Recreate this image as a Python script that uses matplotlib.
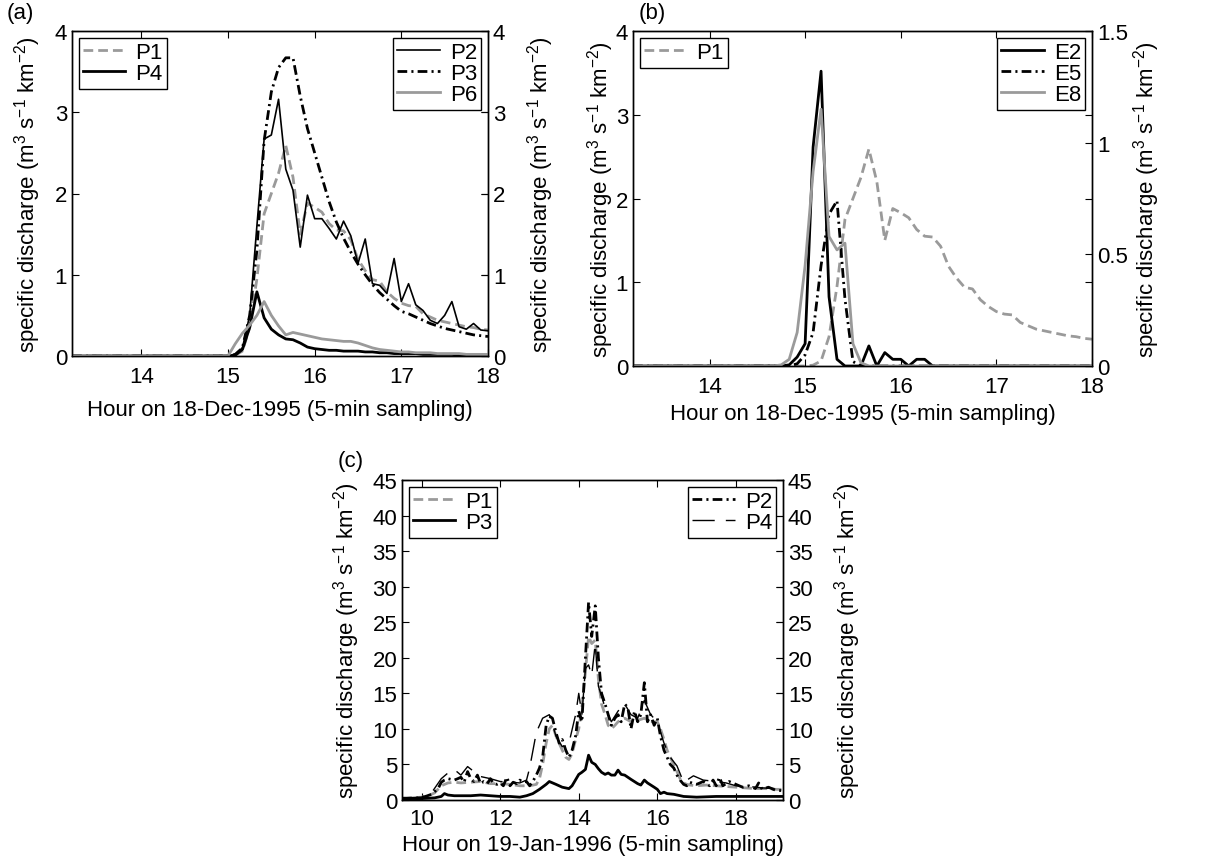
import numpy as np
import matplotlib
matplotlib.use('Agg')
import matplotlib.pyplot as plt

plt.rcParams['font.family'] = ['Liberation Sans', 'DejaVu Sans']
plt.rcParams['font.size'] = 16
plt.rcParams['mathtext.fontset'] = 'custom'
plt.rcParams['mathtext.rm'] = 'Liberation Sans'
plt.rcParams['mathtext.default'] = 'regular'
plt.rcParams['lines.scale_dashes'] = False

GREY = '#9a9a9a'
YLAB = 'specific discharge (m$^3$ s$^{-1}$ km$^{-2}$)'

# ---- 18-Dec-1995, 5-min sampling from 15:00 to 18:00 ----
hours_a = np.arange(15 * 12, 18 * 12 + 1) / 12
t_start = 13.2
p1 = [0, 0.01, 0.06, 0.35, 0.95, 1.75, 2.0, 2.25, 2.59, 2.2,
      1.5, 1.88, 1.83, 1.77, 1.63, 1.55, 1.54, 1.43, 1.19, 1.05,
      0.94, 0.92, 0.79, 0.71, 0.65, 0.62, 0.61, 0.52, 0.48, 0.44,
      0.42, 0.40, 0.38, 0.36, 0.35, 0.33, 0.32]
p4 = [0, 0.01, 0.08, 0.35, 0.79, 0.47, 0.33, 0.26, 0.21, 0.2,
      0.16, 0.11, 0.09, 0.08, 0.07, 0.07, 0.06, 0.06, 0.06, 0.05,
      0.05, 0.04, 0.04, 0.03, 0.03, 0.03, 0.03, 0.02, 0.02, 0.02,
      0.02, 0.02, 0.01, 0.01, 0.01, 0.01, 0.01]
p2 = [0, 0.02, 0.1, 0.5, 1.6, 2.67, 2.72, 3.16, 2.3, 2.04,
      1.34, 1.98, 1.69, 1.69, 1.57, 1.44, 1.66, 1.48, 1.14, 1.44,
      0.89, 0.87, 0.77, 1.2, 0.67, 0.89, 0.63, 0.56, 0.44, 0.4,
      0.5, 0.67, 0.36, 0.33, 0.4, 0.32, 0.31]
p3 = [0, 0.02, 0.1, 0.5, 1.3, 2.65, 3.25, 3.55, 3.67, 3.67,
      3.2, 2.8, 2.5, 2.2, 1.9, 1.65, 1.45, 1.28, 1.13, 1.0,
      0.88, 0.78, 0.7, 0.62, 0.55, 0.52, 0.48, 0.44, 0.4, 0.37,
      0.34, 0.32, 0.3, 0.28, 0.26, 0.25, 0.24]
p6 = [0, 0.15, 0.28, 0.38, 0.5, 0.67, 0.5, 0.37, 0.26, 0.29,
      0.27, 0.25, 0.23, 0.21, 0.2, 0.19, 0.18, 0.18, 0.16, 0.13,
      0.1, 0.08, 0.07, 0.06, 0.05, 0.05, 0.04, 0.04, 0.04, 0.03,
      0.03, 0.03, 0.03, 0.02, 0.02, 0.02, 0.02]

# E stations, 14:40 to 16:20
hours_e = np.arange(14 * 12 + 8, 16 * 12 + 5) / 12
e2 = [0, 0, 0.005, 0.04, 0.1, 0.98, 1.32, 0.31, 0.03, 0,
      0, 0, 0.09, 0, 0.06, 0.03, 0.03, 0, 0.03, 0.03, 0]
e5 = [0, 0, 0, 0.01, 0.05, 0.15, 0.45, 0.68, 0.74, 0.3,
      0.02, 0, 0, 0, 0, 0, 0, 0, 0, 0, 0]
e8 = [0, 0.005, 0.03, 0.15, 0.45, 0.87, 1.15, 0.58, 0.52, 0.55,
      0.1, 0.015, 0, 0, 0, 0, 0, 0, 0, 0, 0]

# ---- 19-Jan-1996 ----
t_p1c = [9.5, 9.75, 10.0, 10.17, 10.33, 10.5, 10.67, 10.83, 11.0, 11.25,
         11.5, 11.75, 12.0, 12.25, 12.5, 12.75, 12.92, 13.0, 13.08, 13.17,
         13.25, 13.33, 13.42, 13.5, 13.58, 13.67, 13.75, 13.83, 13.92, 14.0,
         14.08, 14.17, 14.25, 14.33, 14.42, 14.5, 14.58, 14.67, 14.75, 14.83,
         14.92, 15.0, 15.17, 15.33, 15.5, 15.67, 15.83, 16.0, 16.08, 16.17,
         16.25, 16.33, 16.42, 16.5, 16.58, 16.67, 16.75, 16.83, 17.0, 17.25,
         17.5, 17.75, 18.0, 18.25, 18.5, 18.75, 19.0, 19.2]
q_p1c = [0.3, 0.3, 0.4, 0.6, 1.0, 2.0, 2.4, 2.5, 2.4, 2.5,
         2.6, 2.3, 2.3, 2.2, 2.0, 2.0, 2.2, 3.0, 5.0, 8.0,
         10.0, 10.5, 9.0, 8.0, 7.0, 6.0, 5.7, 6.5, 8.5, 10.0,
         13.0, 18.0, 23.0, 22.0, 22.5, 17.0, 13.5, 12.0, 10.5, 10.0,
         10.5, 11.0, 11.5, 11.0, 11.2, 11.5, 11.0, 11.0, 10.0, 8.5,
         7.0, 6.0, 5.0, 4.0, 3.0, 2.4, 2.2, 2.1, 2.0, 2.1,
         2.0, 1.9, 1.8, 1.7, 1.6, 1.6, 1.5, 1.5]

t_p2c = [9.5, 10.0, 10.25, 10.42, 10.5, 10.58, 10.67, 10.75, 10.83, 10.92,
         11.0, 11.08, 11.17, 11.25, 11.33, 11.42, 11.5, 11.58, 11.67, 11.75,
         11.83, 11.92, 12.0, 12.08, 12.17, 12.25, 12.33, 12.42, 12.5, 12.58,
         12.67, 12.75, 12.83, 12.92, 13.0, 13.08, 13.17, 13.25, 13.33, 13.42,
         13.5, 13.58, 13.67, 13.75, 13.83, 13.92, 14.0, 14.08, 14.17, 14.25,
         14.33, 14.42, 14.5, 14.58, 14.67, 14.75, 14.83, 14.92, 15.0, 15.08,
         15.17, 15.25, 15.33, 15.42, 15.5, 15.58, 15.67, 15.75, 15.83, 15.92,
         16.0, 16.08, 16.17, 16.25, 16.33, 16.42, 16.5, 16.58, 16.67, 16.75,
         16.83, 16.92, 17.0, 17.17, 17.33, 17.42, 17.5, 17.58, 17.67, 17.83,
         18.0, 18.17, 18.33, 18.5, 18.58, 18.67, 18.83, 19.0, 19.2]
q_p2c = [0.2, 0.3, 0.8, 1.6, 2.5, 2.8, 3.0, 2.9, 2.8, 3.0,
         3.2, 2.5, 4.0, 3.0, 2.6, 3.5, 2.3, 2.6, 2.3, 3.0,
         2.3, 2.2, 2.4, 2.0, 3.2, 2.0, 2.5, 2.3, 2.8, 2.5,
         2.6, 2.0, 2.6, 3.5, 4.5, 6.0, 10.5, 11.8, 11.5, 9.5,
         8.0, 8.5, 7.0, 6.0, 7.0, 9.0, 12.5, 11.0, 20.0, 27.8,
         23.0, 27.3, 20.0, 15.0, 13.5, 12.0, 10.5, 11.5, 12.0, 11.0,
         13.5, 13.0, 10.0, 12.5, 11.0, 12.0, 16.5, 11.0, 12.0, 10.5,
         11.5, 9.0, 7.0, 6.0, 5.0, 4.5, 3.5, 2.8, 2.2, 2.0,
         2.5, 2.3, 2.2, 2.6, 2.0, 2.8, 2.0, 3.2, 2.0, 2.6,
         2.2, 1.8, 2.0, 1.6, 2.4, 1.5, 1.8, 1.4, 1.3]

t_p3c = [9.5, 10.0, 10.33, 10.5, 10.58, 10.67, 10.83, 11.0, 11.25, 11.5,
         11.75, 12.0, 12.25, 12.5, 12.67, 12.83, 13.0, 13.17, 13.25, 13.42,
         13.58, 13.75, 13.83, 14.0, 14.08, 14.17, 14.25, 14.33, 14.42, 14.5,
         14.58, 14.67, 14.75, 14.83, 14.92, 15.0, 15.08, 15.17, 15.33, 15.5,
         15.58, 15.67, 15.75, 15.92, 16.0, 16.08, 16.17, 16.25, 16.42, 16.67,
         17.0, 17.5, 18.0, 18.5, 19.2]
q_p3c = [0.2, 0.2, 0.3, 0.5, 0.9, 0.7, 0.6, 0.6, 0.6, 0.7,
         0.6, 0.5, 0.5, 0.4, 0.6, 0.9, 1.5, 2.2, 2.6, 2.2,
         1.8, 1.6, 2.0, 3.6, 3.9, 4.3, 6.3, 5.3, 5.0, 4.4,
         3.9, 3.6, 3.8, 3.5, 3.5, 4.2, 3.6, 3.5, 2.9, 2.3,
         2.1, 2.8, 2.4, 1.8, 1.5, 0.9, 1.1, 0.9, 0.8, 0.5,
         0.4, 0.5, 0.5, 0.5, 0.5]

t_p4c = [9.5, 10.0, 10.25, 10.5, 10.67, 10.83, 11.0, 11.17, 11.33, 11.5,
         11.75, 12.0, 12.25, 12.5, 12.67, 12.75, 12.92, 13.08, 13.25, 13.42,
         13.58, 13.75, 13.92, 14.0, 14.08, 14.17, 14.25, 14.33, 14.42, 14.5,
         14.67, 14.83, 15.0, 15.17, 15.33, 15.5, 15.67, 15.83, 16.0, 16.17,
         16.33, 16.5, 16.67, 16.92, 17.17, 17.5, 17.75, 18.0, 18.33, 18.67,
         19.0, 19.2]
q_p4c = [0.3, 0.4, 1.0, 3.0, 3.8, 4.3, 3.5, 4.7, 4.0, 3.3,
         3.0, 2.6, 2.5, 2.4, 2.8, 4.5, 9.5, 11.5, 12.0, 9.0,
         7.5, 8.0, 12.0, 15.0, 12.0, 18.5, 19.0, 17.5, 22.0, 16.0,
         13.0, 11.0, 12.5, 13.5, 12.0, 11.5, 14.0, 12.0, 11.0, 8.0,
         6.0, 4.8, 2.5, 3.4, 2.8, 2.6, 2.4, 2.0, 1.9, 1.7,
         1.6, 1.6]

DASH = (7, 3.6)
DASHDOT = (7, 3, 1.5, 3)
LONGDASH = (16, 8)

W, H = 1215, 862
fig = plt.figure(figsize=(W / 100, H / 100), dpi=100)


def px_axes(l, t, r, b):
    return fig.add_axes([l / W, 1 - b / H, (r - l) / W, (b - t) / H])


def full(t, v, t_end=None):
    t = np.r_[t_start, t]
    v = np.r_[0, v]
    if t_end is not None:
        t = np.r_[t, t_end]
        v = np.r_[v, 0]
    return t, v


def legend(ax, handles, loc):
    lg = ax.legend(handles=handles, loc=loc, frameon=True, fancybox=False,
                   edgecolor='black', framealpha=1, borderpad=0.2,
                   labelspacing=0.0, handlelength=1.9, handletextpad=0.45,
                   borderaxespad=0.3, fontsize=16)
    lg.get_frame().set_linewidth(1)
    return lg


def style(ax, ax2, xpad):
    for a in (ax, ax2):
        for s in a.spines.values():
            s.set_linewidth(1)
    ax.tick_params(direction='in', length=5, top=True, right=True, labelsize=16)
    ax.tick_params(axis='x', pad=xpad)
    ax2.tick_params(direction='in', length=5, labelsize=16)


# ---------------- (a) ----------------
ax = px_axes(72, 32, 488, 357)
ax2 = ax.twinx()
h1, = ax.plot(*full(hours_a, p1), color=GREY, lw=2, dashes=DASH, label='P1')
h4, = ax.plot(*full(hours_a, p4), color='black', lw=2, label='P4')
h2, = ax2.plot(*full(hours_a, p2), color='black', lw=1.2, label='P2')
h3, = ax2.plot(*full(hours_a, p3), color='black', lw=2, dashes=DASHDOT, label='P3')
h6, = ax2.plot(*full(hours_a, p6), color=GREY, lw=2, label='P6')
ax.set_xlim(13.2, 18); ax.set_ylim(0, 4); ax2.set_ylim(0, 4)
ax.set_xticks([14, 15, 16, 17, 18]); ax.set_yticks(range(5)); ax2.set_yticks(range(5))
style(ax, ax2, 7)
ax.set_xlabel('Hour on 18-Dec-1995 (5-min sampling)', labelpad=8.5)
ax.set_ylabel(YLAB); ax.yaxis.set_label_coords(-0.07, 0.5)
ax2.set_ylabel(YLAB, rotation=90); ax2.yaxis.set_label_coords(1.09, 0.5)
ax2.add_artist(legend(ax2, [h1, h4], 'upper left'))
legend(ax2, [h2, h3, h6], 'upper right')

# ---------------- (b) ----------------
bx = px_axes(633, 32, 1092, 367)
bx2 = bx.twinx()
g1, = bx.plot(*full(hours_a, p1), color=GREY, lw=2, dashes=DASH, label='P1')
g2, = bx2.plot(*full(hours_e, e2, 18), color='black', lw=2, label='E2')
g5, = bx2.plot(*full(hours_e, e5, 18), color='black', lw=2, dashes=DASHDOT, label='E5')
g8, = bx2.plot(*full(hours_e, e8, 18), color=GREY, lw=2, label='E8')
bx.set_xlim(13.2, 18); bx.set_ylim(0, 4); bx2.set_ylim(0, 1.5)
bx.set_xticks([14, 15, 16, 17, 18]); bx.set_yticks(range(5))
bx2.set_yticks([0, 0.5, 1, 1.5]); bx2.set_yticklabels(['0', '0.5', '1', '1.5'])
style(bx, bx2, 7)
bx.set_xlabel('Hour on 18-Dec-1995 (5-min sampling)', labelpad=4.5)
bx.set_ylabel(YLAB); bx.yaxis.set_label_coords(-0.036, 0.5)
bx2.set_ylabel(YLAB, rotation=90); bx2.yaxis.set_label_coords(1.085, 0.5)
bx2.add_artist(legend(bx2, [g1], 'upper left'))
legend(bx2, [g2, g5, g8], 'upper right')

# ---------------- (c) ----------------
cx = px_axes(402, 481, 783, 801)
cx2 = cx.twinx()
k1, = cx.plot(t_p1c, q_p1c, color=GREY, lw=2, dashes=DASH, label='P1')
k3, = cx.plot(t_p3c, q_p3c, color='black', lw=2, label='P3')
k2, = cx2.plot(t_p2c, q_p2c, color='black', lw=2, dashes=DASHDOT, label='P2')
k4, = cx2.plot(t_p4c, q_p4c, color='black', lw=1, dashes=LONGDASH, label='P4')
cx.set_xlim(9.5, 19.2); cx.set_ylim(0, 45); cx2.set_ylim(0, 45)
cx.set_xticks([10, 12, 14, 16, 18])
cx.set_yticks(range(0, 46, 5)); cx2.set_yticks(range(0, 46, 5))
style(cx, cx2, 6)
cx.set_xlabel('Hour on 19-Jan-1996 (5-min sampling)', labelpad=3.5)
cx.set_ylabel(YLAB); cx.yaxis.set_label_coords(-0.105, 0.5)
cx2.set_ylabel(YLAB, rotation=90); cx2.yaxis.set_label_coords(1.13, 0.5)
cx2.add_artist(legend(cx2, [k1, k3], 'upper left'))
legend(cx2, [k2, k4], 'upper right')

for x, y, s in [(20, 14, '(a)'), (652, 14, '(b)'), (351, 462, '(c)')]:
    fig.text(x / W, 1 - y / H, s, ha='center', va='center', fontsize=16)

fig.savefig('out.png', dpi=100)
